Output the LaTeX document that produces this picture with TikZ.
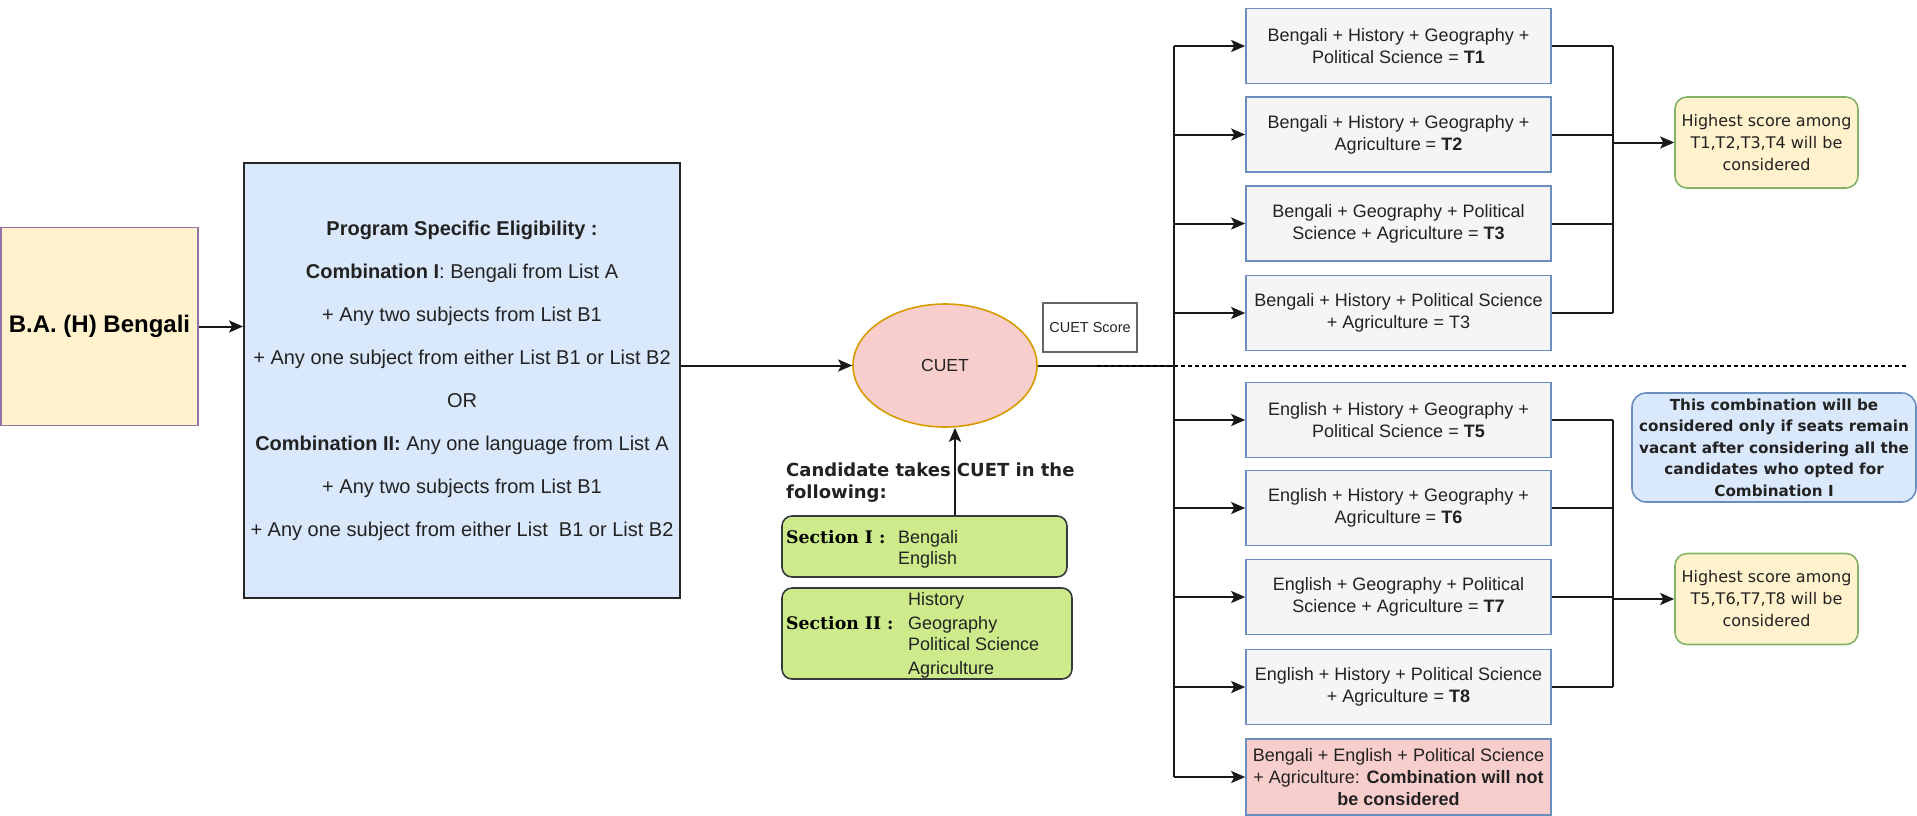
\documentclass[tikz,border=0pt]{standalone}
\usepackage{fontspec}
\setmainfont{Liberation Sans}
\newfontfamily\dvsans{DejaVu Sans}
\newfontfamily\dvserif{DejaVu Serif}
\usetikzlibrary{arrows.meta,shapes.geometric}
\definecolor{yelfill}{HTML}{FFF2CC}
\definecolor{purpborder}{HTML}{9673A6}
\definecolor{bluefill}{HTML}{DAE8FC}
\definecolor{blueborder}{HTML}{6C8EBF}
\definecolor{redfill}{HTML}{F8CECC}
\definecolor{orangeborder}{HTML}{D79B00}
\definecolor{greyfill}{HTML}{F5F5F5}
\definecolor{greenborder}{HTML}{82B366}
\definecolor{limefill}{HTML}{CDEB8B}
\definecolor{darkborder}{HTML}{36393D}
\definecolor{txt}{HTML}{222222}
\begin{document}
\begin{tikzpicture}[x=1pt,y=-1pt,
  line/.style={line width=2pt, draw=black!90},
  arr/.style={line width=2pt, draw=black!90, -{Stealth[length=14pt,width=12pt,inset=3pt]}},
  tbox/.style={draw=blueborder, fill=greyfill, line width=1.6pt, minimum width=305, minimum height=75, inner sep=0, align=center, text=txt, font=\fontsize{18}{22}\selectfont},
  hsbox/.style={draw=greenborder, fill=yelfill, rounded corners=12, line width=1.6pt, minimum width=183, minimum height=91, inner sep=0, align=center, text=txt, font=\dvsans\fontsize{16}{22}\selectfont},
  secbox/.style={draw=darkborder, fill=limefill, rounded corners=10, line width=1.6pt, inner sep=0},
  seclabel/.style={anchor=base west, inner sep=0, font=\dvserif\bfseries\fontsize{17.3}{20}\selectfont, text=black},
  secitem/.style={anchor=base west, inner sep=0, font=\fontsize{18}{22}\selectfont, text=txt},
]
\useasboundingbox (0,0) rectangle (1917,815);

% left part
\node[draw=purpborder, fill=yelfill, line width=1.6pt, minimum width=197, minimum height=198, inner sep=0, text=black, font=\bfseries\fontsize{24}{28}\selectfont] (ba) at (99.5,326.5) {B.A. (H) Bengali};

\node[draw=black!85, fill=bluefill, line width=1.8pt, minimum width=436, minimum height=435, inner sep=0, align=center, font=\fontsize{20}{43}\selectfont, text=txt] (elig) at (462,380.5) {\textbf{Program Specific Eligibility :}\\ \textbf{Combination I}: Bengali from List A\\ + Any two subjects from List B1\\ + Any one subject from either List B1 or List B2\\ OR\\ \textbf{Combination II:} Any one language from List A\\ + Any two subjects from List B1\\ + Any one subject from either List~~B1 or List B2};

\draw[arr] (ba.east) -- (ba.east -| elig.west);

% CUET
\node[ellipse, draw=orangeborder, fill=redfill, line width=1.6pt, minimum width=184, minimum height=123, inner sep=0, font=\fontsize{17.5}{20}\selectfont, text=txt] (cuet) at (945,365.5) {CUET};
\draw[arr] (elig.east |- cuet.west) -- (cuet.west);

\node[draw=black!60, line width=2pt, minimum width=94, minimum height=49, inner sep=0, font=\fontsize{14.5}{16}\selectfont, text=txt] (score) at (1090,327) {CUET Score};

% candidate
\node[anchor=north west, inner sep=0, align=left, font=\dvsans\bfseries\fontsize{18}{22}\selectfont, text=txt] (cand) at (786,463) {Candidate takes CUET in the\\following:};

\node[secbox, minimum width=285, minimum height=61] (sec1) at (924.5,546.5) {};
\node[secbox, minimum width=290, minimum height=91] (sec2) at (927,633.5) {};
\node[seclabel] (s1l) at (786,543.5) {Section I :};
\node[secitem] (s1a) at (898,543.5) {Bengali};
\node[secitem] (s1b) at (898,564.5) {English};
\node[seclabel] (s2l) at (786,629.5) {Section II :};
\node[secitem] (s2a) at (908,605.5) {History};
\node[secitem] (s2b) at (908,629.5) {Geography};
\node[secitem] (s2c) at (908,650.5) {Political Science};
\node[secitem] (s2d) at (908,674.5) {Agriculture};

\coordinate (upx) at (955,0);
\draw[arr] (sec1.north -| upx) -- (cuet.south -| upx);

% trunk
\coordinate (trunk) at (1174,365.5);
\draw[line] (cuet.east) -- (trunk);
\coordinate (dl) at (1097,366);
\coordinate (dr) at (1907,366);
\draw[line width=1.5pt, dash pattern=on 4pt off 3pt] (dl) -- (dr);

% T boxes
\node[tbox] (t1) at (1398.5,46) {Bengali + History + Geography +\\Political Science = \textbf{T1}};
\node[tbox] (t2) at (1398.5,134.5) {Bengali + History + Geography +\\Agriculture = \textbf{T2}};
\node[tbox] (t3) at (1398.5,223.5) {Bengali + Geography + Political\\Science + Agriculture = \textbf{T3}};
\node[tbox] (t4) at (1398.5,313) {Bengali + History + Political Science\\+ Agriculture = T3};
\node[tbox] (t5) at (1398.5,420) {English + History + Geography +\\Political Science = \textbf{T5}};
\node[tbox] (t6) at (1398.5,508) {English + History + Geography +\\Agriculture = \textbf{T6}};
\node[tbox] (t7) at (1398.5,597) {English + Geography + Political\\Science + Agriculture = \textbf{T7}};
\node[tbox] (t8) at (1398.5,687) {English + History + Political Science\\+ Agriculture = \textbf{T8}};
\node[tbox, fill=redfill, minimum height=76] (tx) at (1398.5,777) {Bengali + English + Political Science\\+ Agriculture: \textbf{Combination will not}\\\textbf{be considered}};

\draw[line] (t1.west -| trunk) -- (tx.west -| trunk);
\foreach \t in {t1,t2,t3,t4,t5,t6,t7,t8,tx}{
  \draw[arr] (\t.west -| trunk) -- (\t.west);
}

% right side
\node[hsbox] (hs1) at (1766.5,142.5) {Highest score among\\T1,T2,T3,T4 will be\\considered};
\node[hsbox] (hs2) at (1766.5,599) {Highest score among\\T5,T6,T7,T8 will be\\considered};
\node[draw=blueborder, fill=bluefill, rounded corners=14, line width=1.6pt, minimum width=284, minimum height=109, inner sep=0, align=center, text=txt, font=\dvsans\bfseries\fontsize{15.2}{21.5}\selectfont] (note) at (1774,447.5) {This combination will be\\considered only if seats remain\\vacant after considering all the\\candidates who opted for\\Combination I};

\coordinate (col) at (1613,0);
\foreach \t in {t1,t2,t3,t4,t5,t6,t7,t8}{
  \draw[line] (\t.east) -- (\t.east -| col);
}
\draw[line] (t1.east -| col) -- (t4.east -| col);
\draw[line] (t5.east -| col) -- (t8.east -| col);
\draw[arr] (hs1.west -| col) -- (hs1.west);
\draw[arr] (hs2.west -| col) -- (hs2.west);
\end{tikzpicture}
\end{document}
